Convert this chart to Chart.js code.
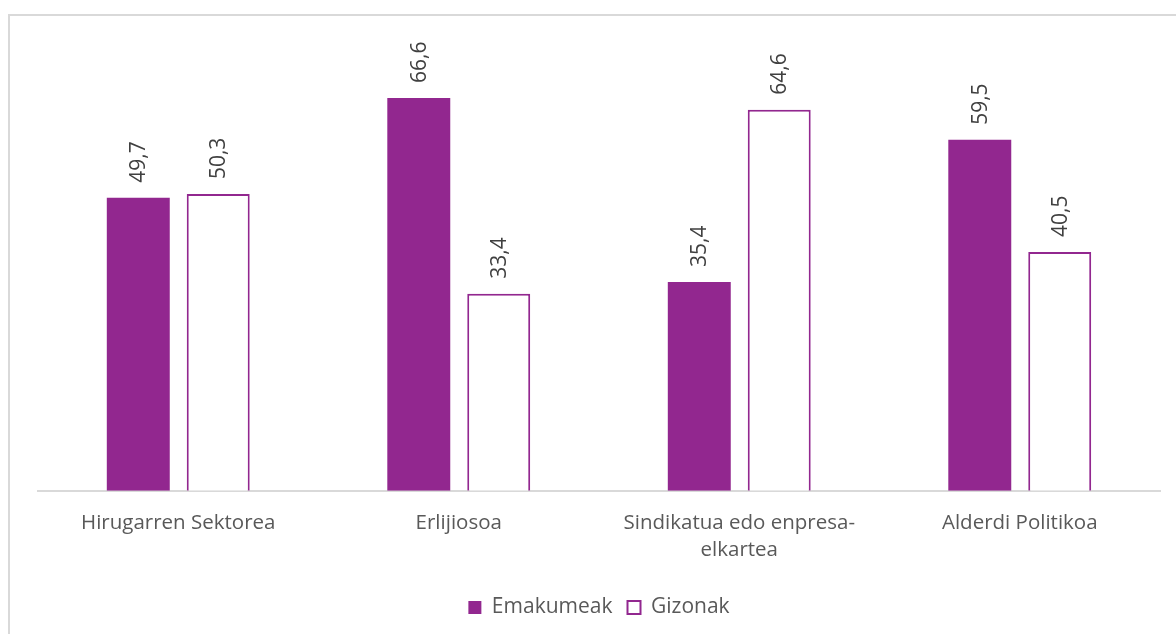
<!DOCTYPE html>
<html>
<head>
<meta charset="utf-8">
<script src="https://cdn.jsdelivr.net/npm/chart.js@4.4.0/dist/chart.umd.min.js"></script>
<style>
  html, body { margin: 0; padding: 0; background: #ffffff; overflow: hidden; }
  #frame {
    position: absolute; left: 8px; top: 14px;
    width: 1168px; height: 620px;
    border-top: 2px solid #d9d9d9; border-left: 2px solid #d9d9d9;
    box-sizing: border-box;
  }
  #wrap { position: absolute; left: 2px; top: 2px; width: 1166px; height: 618px; }
</style>
</head>
<body>
<div id="frame"><div id="wrap"><canvas id="chart"></canvas></div></div>
<script>
// Categories and series values
const categories = [
  "Hirugarren Sektorea",
  "Erlijiosoa",
  ["Sindikatua edo enpresa-", "elkartea"],
  "Alderdi Politikoa"
];
const emakumeak = [49.7, 66.6, 35.4, 59.5];
const gizonak = [50.3, 33.4, 64.6, 40.5];
const seriesNames = ["Emakumeak", "Gizonak"];

const PURPLE = "#92278f";
const FONT = "'Open Sans', 'DejaVu Sans', sans-serif";

// Rotated value labels above each bar, comma as decimal separator
const valueLabels = {
  id: "valueLabels",
  afterDatasetsDraw(chart) {
    const ctx = chart.ctx;
    ctx.save();
    ctx.font = "21px " + FONT;
    ctx.fillStyle = "#404040";
    ctx.textAlign = "left";
    ctx.textBaseline = "middle";
    chart.data.datasets.forEach((ds, di) => {
      chart.getDatasetMeta(di).data.forEach((bar, i) => {
        const txt = ds.data[i].toFixed(1).replace(".", ",");
        ctx.save();
        ctx.translate(bar.x + 1, bar.y - 15);
        ctx.rotate(-Math.PI / 2);
        ctx.fillText(txt, 0, 0);
        ctx.restore();
      });
    });
    ctx.restore();
  }
};

new Chart(document.getElementById("chart"), {
  type: "bar",
  data: {
    labels: categories,
    datasets: [
      {
        label: seriesNames[0],
        data: emakumeak,
        backgroundColor: PURPLE,
        borderColor: PURPLE,
        borderWidth: 0
      },
      {
        label: seriesNames[1],
        data: gizonak,
        backgroundColor: "#ffffff",
        borderColor: PURPLE,
        borderWidth: 2
      }
    ]
  },
  options: {
    responsive: true,
    maintainAspectRatio: false,
    animation: false,
    categoryPercentage: 0.57,
    barPercentage: 0.7875,
    layout: { padding: { left: 26, right: 18, top: 1, bottom: 8 } },
    scales: {
      x: {
        grid: { display: false, drawTicks: false },
        border: { display: true, color: "#d9d9d9", width: 2 },
        ticks: {
          color: "#595959",
          font: { family: FONT, size: 20.5, lineHeight: 1.3 },
          padding: 19,
          maxRotation: 0,
          autoSkip: false
        }
      },
      y: {
        display: false,
        min: 0,
        max: 80
      }
    },
    plugins: {
      legend: {
        position: "bottom",
        labels: {
          color: "#595959",
          font: { family: FONT, size: 21 },
          boxWidth: 13,
          boxHeight: 13,
          padding: 15,
          useBorderRadius: false
        }
      },
      tooltip: { enabled: false }
    }
  },
  plugins: [valueLabels]
});
</script>
</body>
</html>
